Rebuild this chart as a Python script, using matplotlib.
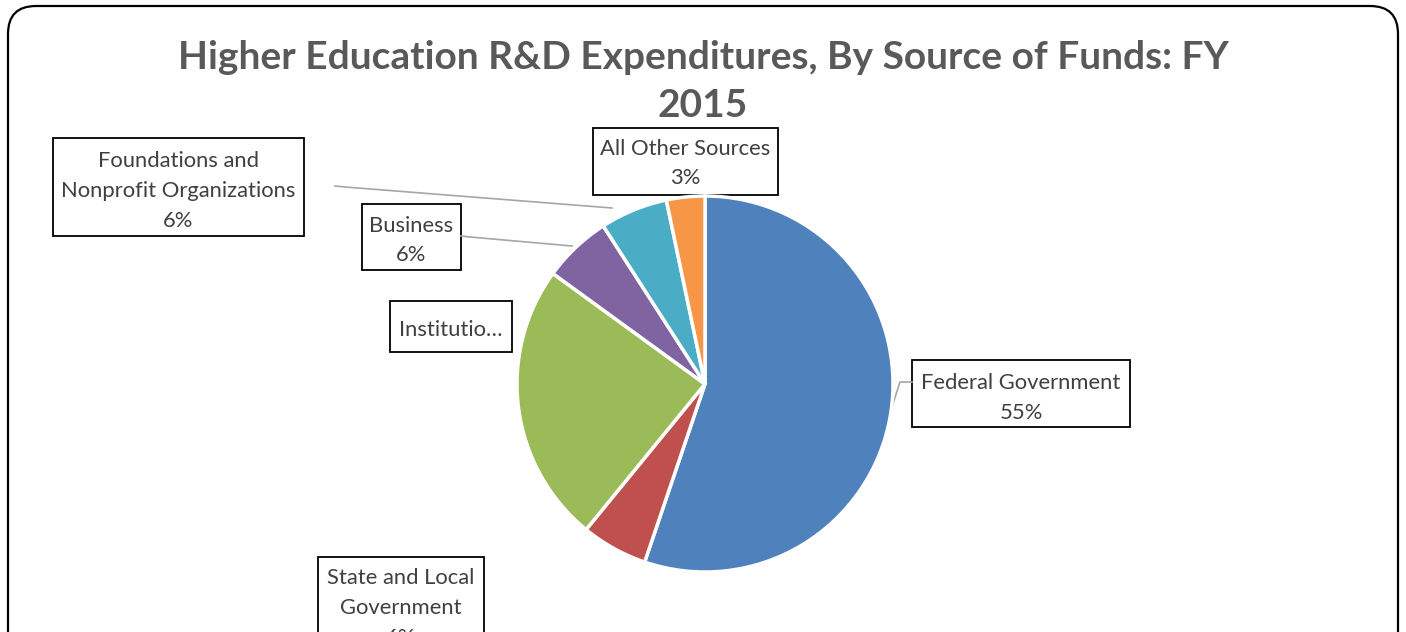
import matplotlib
matplotlib.use("Agg")
import matplotlib.pyplot as plt
from matplotlib.patches import Rectangle, FancyBboxPatch

# ---- data ----
categories = ["Federal Government", "State and Local Government", "Institution Funds",
              "Business", "Foundations and Nonprofit Organizations", "All Other Sources"]
shares = [55.2, 5.7, 24.1, 5.9, 5.8, 3.3]
label_texts = ["Federal Government\n55%", "State and Local\nGovernment\n6%", "Institutio…",
               "Business\n6%", "Foundations and\nNonprofit Organizations\n6%", "All Other Sources\n3%"]
colors = ["#4F81BD", "#C0504D", "#9BBB59", "#8064A2", "#4BACC6", "#F79646"]
title = "Higher Education R&D Expenditures, By Source of Funds: FY\n2015"

W, H = 1406, 632
fig = plt.figure(figsize=(W / 100, H / 100), dpi=100)
plt.rcParams['font.family'] = ['Lato', 'DejaVu Sans']

# overlay axes in pixel coords
ov = fig.add_axes([0, 0, 1, 1])
ov.set_xlim(0, W)
ov.set_ylim(H, 0)
ov.axis("off")

ov.add_patch(FancyBboxPatch((8, 6), 1390, 660, boxstyle="round,pad=0,rounding_size=28",
                            fill=False, ec="black", lw=1.6, clip_on=False))

ov.text(703, 81.5, title, ha="center", va="center", fontsize=28, fontweight="bold",
        color="#595959", linespacing=1.48)

# label boxes (x0, y0, x1, y1) in pixels
boxes = [(912, 360, 1130, 427), (318, 557, 484, 660), (390, 301, 512, 352),
         (362, 204, 461, 270), (53, 138, 304, 236), (593, 128, 778, 195)]
text_centers = [398, 608, 330, 240.5, 191, 163.5]
for (x0, y0, x1, y1), txt, ty in zip(boxes, label_texts, text_centers):
    ov.add_patch(Rectangle((x0, y0), x1 - x0, y1 - y0, fill=True, fc="white", ec="black", lw=1.3))
    ov.text((x0 + x1) / 2, ty, txt, ha="center", va="center", fontsize=15.8, color="#404040",
            linespacing=1.62)

# leader lines
leaders = [([890, 900, 912], [413, 382, 382]),
           ([335, 345, 612], [186, 187, 208]),
           ([461, 470, 572], [236, 237, 246])]
for xs, ys in leaders:
    ov.plot(xs, ys, color="#A6A6A6", lw=1.2)

# pie axes: center (705,384), radius 188 px
cx, cy, r = 705, 384, 188
ax = fig.add_axes([(cx - r) / W, (H - cy - r) / H, 2 * r / W, 2 * r / H])
ax.pie(shares, colors=colors, startangle=90, counterclock=False, radius=1,
       wedgeprops=dict(edgecolor="white", linewidth=2.5))
ax.set_xlim(-1, 1)
ax.set_ylim(-1, 1)
ax.set_aspect("auto")
ax.axis("off")

fig.savefig("out.png", dpi=100)
